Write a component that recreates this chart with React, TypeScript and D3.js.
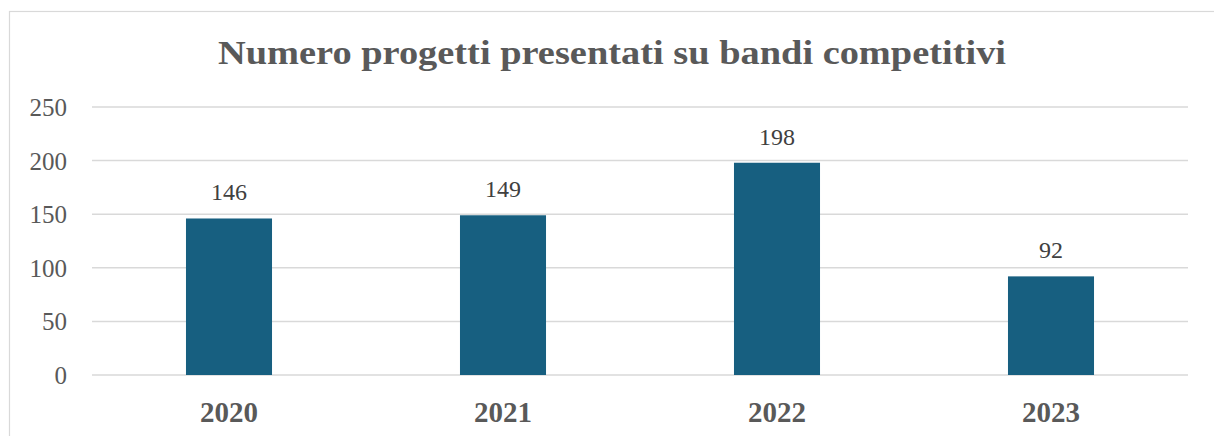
import React from "react";
import * as d3 from "d3";

const categories = ["2020", "2021", "2022", "2023"];
const values = [146, 149, 198, 92];
const yTicks = [0, 50, 100, 150, 200, 250];
const title = "Numero progetti presentati su bandi competitivi";

export default function App() {
  const W = 1214;
  const H = 436;
  const left = 92;
  const right = 1188;
  const top = 107;
  const bottom = 375;
  const x = d3.scaleBand<string>().domain(categories).range([left, right]).paddingInner(0.686).paddingOuter(0.343);
  const y = d3.scaleLinear().domain([0, 250]).range([bottom, top]);
  const font = "serif";
  return (
    <svg width={W} height={H} style={{ position: "absolute", left: 0, top: 0, display: "block", background: "#fff" }}>
      <rect x={9.5} y={11.5} width={1220} height={440} fill="#fff" stroke="#d9d9d9" strokeWidth={1.2} />
      <text x={612} y={64} textAnchor="middle" style={{ fontFamily: font }} fontWeight="bold" fontSize={34} fill="#595959" textLength={788} lengthAdjust="spacingAndGlyphs">
        {title}
      </text>
      {yTicks.map((t) => (
        <g key={t}>
          <line x1={left} x2={right} y1={y(t)} y2={y(t)} stroke="#d9d9d9" strokeWidth={1.5} />
          <text x={67} y={y(t) + 9} textAnchor="end" style={{ fontFamily: font }} fontSize={25} fill="#595959">
            {t}
          </text>
        </g>
      ))}
      {categories.map((c, i) => (
        <g key={c}>
          <rect x={x(c)} y={y(values[i])} width={x.bandwidth()} height={y(0) - y(values[i])} fill="#175f80" />
          <text x={(x(c) as number) + x.bandwidth() / 2} y={y(values[i]) - 18} textAnchor="middle" style={{ fontFamily: font }} fontSize={24} fill="#404040">
            {values[i]}
          </text>
          <text x={(x(c) as number) + x.bandwidth() / 2} y={422} textAnchor="middle" style={{ fontFamily: font }} fontWeight="bold" fontSize={29} fill="#595959">
            {c}
          </text>
        </g>
      ))}
    </svg>
  );
}
